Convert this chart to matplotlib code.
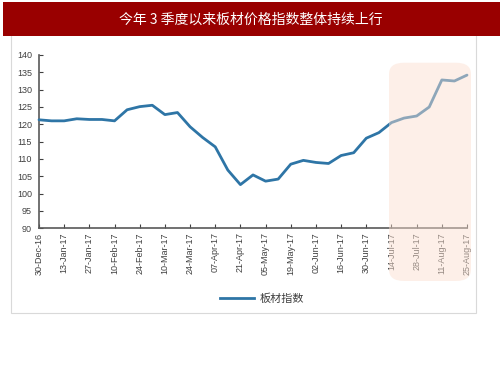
import matplotlib
matplotlib.use("Agg")
import matplotlib.pyplot as plt
import matplotlib.dates as mdates
from matplotlib.patches import FancyBboxPatch, Rectangle
from matplotlib.lines import Line2D
import numpy as np
import pandas as pd

title = "今年 3 季度以来板材价格指数整体持续上行"
series_name = "板材指数"
dates = pd.date_range("2016-12-30", "2017-08-25", freq="7D")
values = [121.3, 121.0, 121.0, 121.6, 121.4, 121.4, 121.0, 124.2, 125.1, 125.5,
          122.8, 123.4, 119.3, 116.2, 113.5, 106.8, 102.6, 105.4, 103.6, 104.2,
          108.5, 109.6, 109.0, 108.7, 111.0, 111.8, 116.0, 117.6, 120.5, 121.8,
          122.4, 125.0, 132.8, 132.5, 134.2]
tick_dates = pd.date_range("2016-12-30", "2017-08-25", freq="14D")
yticks = list(range(90, 141, 5))

plt.rcParams['font.family'] = ['Liberation Sans', 'Noto Sans CJK SC', 'DejaVu Sans']

W, H = 503, 378
fig = plt.figure(figsize=(W / 100, H / 100), dpi=100)
fig.patch.set_facecolor("white")

# outer frame
fig.add_artist(Rectangle((11 / W, 1 - 313 / H), (476 - 11) / W, (313 - 30) / H,
                         transform=fig.transFigure, fill=False,
                         edgecolor="#D9D9D9", linewidth=0.8, zorder=0))
# title bar
fig.add_artist(Rectangle((3 / W, 1 - 36 / H), (500 - 3) / W, 34 / H,
                         transform=fig.transFigure, facecolor="#990000",
                         edgecolor="none", zorder=1))
fig.text(251 / W, 1 - 19.5 / H, title, color="white", fontsize=10,
         ha="center", va="center",
         family=['Noto Sans CJK SC', 'DejaVu Sans'], zorder=2)

ax = fig.add_axes([39 / W, 1 - 228.3 / H, (467 - 39) / W, (228.3 - 55) / H])
ax.plot(dates, values, color="#2E75A6", linewidth=2.0, solid_joinstyle="round",
        solid_capstyle="round", zorder=3, clip_on=False)
ax.set_ylim(90, 140)
ax.set_xlim(dates[0], dates[-1])
ax.set_yticks(yticks)
ax.set_xticks(tick_dates)
ax.xaxis.set_major_formatter(mdates.DateFormatter("%d-%b-%y"))
for lab in ax.get_xticklabels():
    lab.set_rotation(90)
ax.tick_params(axis="both", labelsize=6.5, colors="#404040", direction="in",
               length=3, width=0.8, pad=3)
ax.tick_params(axis="y", pad=5)
for s in ["top", "right"]:
    ax.spines[s].set_visible(False)
for s in ["left", "bottom"]:
    ax.spines[s].set_color("#595959")
    ax.spines[s].set_linewidth(1.2)
ax.set_facecolor("none")

# legend
leg_handle = Line2D([], [], color="#2E75A6", linewidth=2.0)
fig.legend([leg_handle], [series_name], loc="center", bbox_to_anchor=(262 / W, 1 - 299 / H),
           frameon=False, prop={'family': ['Noto Sans CJK SC', 'DejaVu Sans'], 'size': 8},
           handlelength=3.0, handletextpad=0.5, labelcolor="#404040")

# highlight patch (drawn on top, semi-transparent)
fig.add_artist(FancyBboxPatch((389 / W, 1 - 281 / H), (471 - 389) / W, (281 - 62.7) / H,
                              boxstyle="round,pad=0,rounding_size=0.03",
                              transform=fig.transFigure, facecolor=(251 / 255, 223 / 255, 208 / 255),
                              alpha=0.47, edgecolor="none", zorder=10))

fig.savefig("out.png", dpi=100)
